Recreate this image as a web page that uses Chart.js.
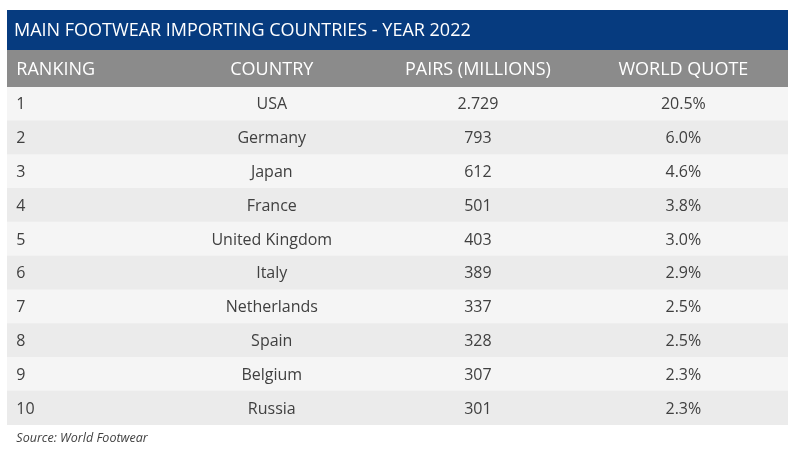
<!DOCTYPE html>
<html>
<head>
<meta charset="utf-8">
<script src="https://cdn.jsdelivr.net/npm/chart.js@4"></script>
<style>
  body { margin: 0; background: #ffffff; }
  #wrap { width: 800px; height: 468px; }
</style>
</head>
<body>
<div id="wrap"><canvas id="table" width="800" height="468"></canvas></div>
<script>
// Donnees du tableau
const title = 'MAIN FOOTWEAR IMPORTING COUNTRIES - YEAR 2022';
const headers = ['RANKING', 'COUNTRY', 'PAIRS (MILLIONS)', 'WORLD QUOTE'];
const ranks = [1, 2, 3, 4, 5, 6, 7, 8, 9, 10];
const countries = ['USA', 'Germany', 'Japan', 'France', 'United Kingdom', 'Italy', 'Netherlands', 'Spain', 'Belgium', 'Russia'];
const pairs = [2729, 793, 612, 501, 403, 389, 337, 328, 307, 301];
const worldQuote = [20.5, 6.0, 4.6, 3.8, 3.0, 2.9, 2.5, 2.5, 2.3, 2.3];
const source = 'Source: World Footwear';

// position des colonnes sur l'axe x (0..100)
const colPos = [1.2, 33.9, 60.3, 86.6];
const FONT = '"Open Sans", "Noto Sans", sans-serif';

const fmtPairs = (v) => String(v).replace(/\B(?=(\d{3})+(?!\d))/g, '.');

const tablePlugin = {
    id: 'tablePlugin',
    beforeDatasetsDraw(chart) {
        const { ctx, chartArea } = chart;
        const x = chart.scales.x;
        const left = chartArea.left, w = chartArea.right - chartArea.left;
        ctx.save();
        // bandeau titre
        ctx.fillStyle = '#063b7f';
        ctx.fillRect(left, chartArea.top - 77, w, 40);
        // entete
        ctx.fillStyle = '#8b8b8b';
        ctx.fillRect(left, chartArea.top - 37, w, 37);

        ctx.fillStyle = '#ffffff';
        ctx.textBaseline = 'middle';
        ctx.font = '500 18px ' + FONT;
        ctx.textAlign = 'left';
        ctx.fillText(title, left + 7, chartArea.top - 56);

        headers.forEach((h, i) => {
            ctx.textAlign = i === 0 ? 'left' : 'center';
            ctx.fillText(h, x.getPixelForValue(colPos[i]), chartArea.top - 17);
        });
        ctx.restore();
    },
    afterDatasetsDraw(chart) {
        const { ctx, chartArea } = chart;
        const x = chart.scales.x, y = chart.scales.y;
        ctx.save();
        ctx.fillStyle = '#404040';
        ctx.textBaseline = 'middle';
        ctx.font = '16px ' + FONT;
        ranks.forEach((r, i) => {
            const py = y.getPixelForValue(i) + 1;
            const cells = [String(r), countries[i], fmtPairs(pairs[i]), worldQuote[i].toFixed(1) + '%'];
            cells.forEach((c, j) => {
                ctx.textAlign = j === 0 ? 'left' : 'center';
                ctx.fillText(c, x.getPixelForValue(colPos[j]), py);
            });
        });
        ctx.font = 'italic 12.5px ' + FONT;
        ctx.textAlign = 'left';
        ctx.fillText(source, x.getPixelForValue(colPos[0]), chartArea.bottom + 13);
        ctx.restore();
    }
};

new Chart(document.getElementById('table'), {
    type: 'bar',
    data: {
        labels: countries,
        datasets: [{
            data: countries.map(() => [0, 100]),
            backgroundColor: countries.map((c, i) => i % 2 === 0 ? '#f5f5f5' : '#ebebeb'),
            borderWidth: 0,
            barPercentage: 1,
            categoryPercentage: 1
        }]
    },
    options: {
        indexAxis: 'y',
        responsive: false,
        animation: false,
        layout: { padding: { left: 7, right: 12, top: 87, bottom: 43 } },
        plugins: { legend: { display: false }, tooltip: { enabled: false } },
        scales: {
            x: { type: 'linear', min: 0, max: 100, display: false },
            y: { display: false }
        }
    },
    plugins: [tablePlugin]
});
</script>
</body>
</html>
